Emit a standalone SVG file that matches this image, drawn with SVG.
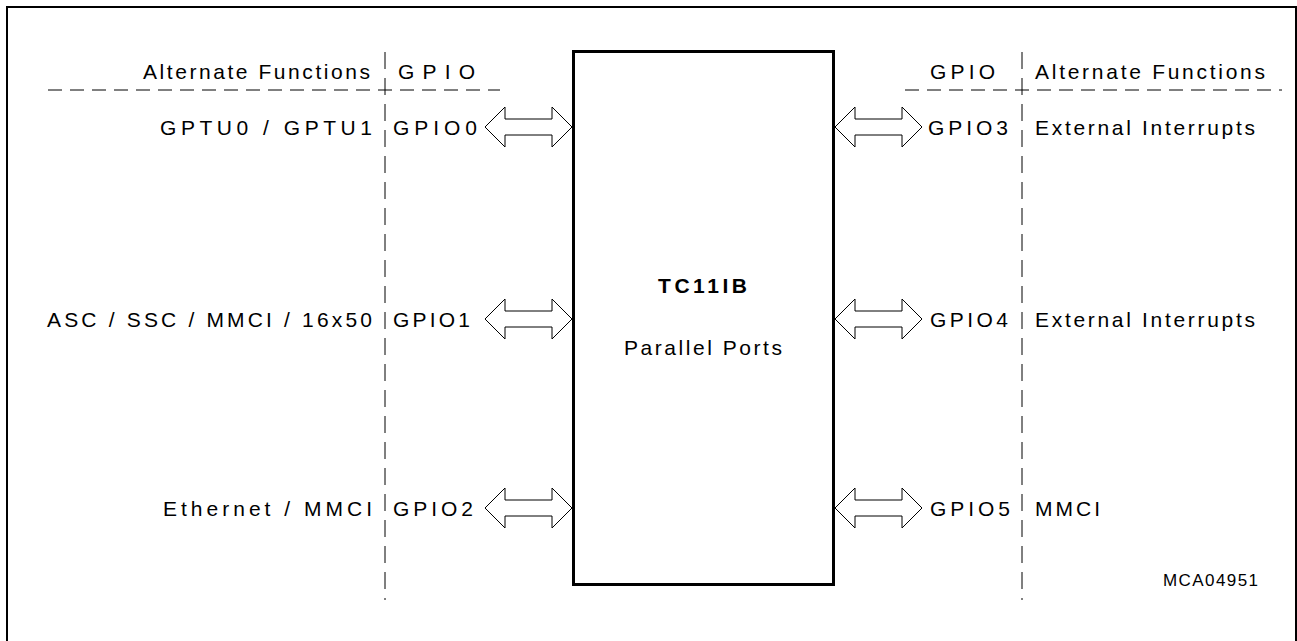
<svg xmlns="http://www.w3.org/2000/svg" width="1297" height="641" viewBox="0 0 1297 641">
<style>
text{font-family:"Liberation Sans",Arial,sans-serif;font-size:21px;fill:#000}
.b{font-weight:bold}
.dash{stroke:#000;stroke-width:1;fill:none}
.arr{fill:#fff;stroke:#000;stroke-width:1;stroke-linejoin:miter}
</style>
<rect x="0" y="0" width="1297" height="641" fill="#fff"/>
<rect x="7" y="7" width="1289" height="650" fill="none" stroke="#000" stroke-width="2"/>
<g id="guides">
<line class="dash" x1="385" y1="52" x2="385" y2="600" stroke-dasharray="17 9"/>
<line class="dash" x1="1022" y1="52" x2="1022" y2="600" stroke-dasharray="17 9"/>
<line class="dash" x1="48" y1="90" x2="500" y2="90" stroke-dasharray="14 8"/>
<line class="dash" x1="905" y1="90" x2="1282" y2="90" stroke-dasharray="14 8"/>
</g>
<g id="headers">
<text x="143" y="79" textLength="227" lengthAdjust="spacing">Alternate Functions</text>
<text x="398" y="79" textLength="77" lengthAdjust="spacing">GPIO</text>
<text x="930" y="79" textLength="65" lengthAdjust="spacing">GPIO</text>
<text x="1035" y="79" textLength="230" lengthAdjust="spacing">Alternate Functions</text>
</g>
<g id="tc11ib">
<rect x="573.5" y="51.5" width="260" height="533" fill="#fff" stroke="#000" stroke-width="3"/>
<text class="b" x="658" y="293" textLength="89" lengthAdjust="spacing">TC11IB</text>
<text x="624" y="355" textLength="158" lengthAdjust="spacing">Parallel Ports</text>
</g>
<g id="gpio0">
<text x="160" y="135" textLength="212" lengthAdjust="spacing">GPTU0 / GPTU1</text>
<text x="393" y="135" textLength="84" lengthAdjust="spacing">GPIO0</text>
</g>
<g id="gpio1">
<text x="47" y="327" textLength="325" lengthAdjust="spacing">ASC / SSC / MMCI / 16x50</text>
<text x="393" y="327" textLength="77" lengthAdjust="spacing">GPIO1</text>
</g>
<g id="gpio2">
<text x="163" y="516" textLength="209" lengthAdjust="spacing">Ethernet / MMCI</text>
<text x="393" y="516" textLength="80" lengthAdjust="spacing">GPIO2</text>
</g>
<g id="gpio3">
<text x="928" y="135" textLength="80" lengthAdjust="spacing">GPIO3</text>
<text x="1035" y="135" textLength="220" lengthAdjust="spacing">External Interrupts</text>
</g>
<g id="gpio4">
<text x="930" y="327" textLength="78" lengthAdjust="spacing">GPIO4</text>
<text x="1035" y="327" textLength="220" lengthAdjust="spacing">External Interrupts</text>
</g>
<g id="gpio5">
<text x="930" y="516" textLength="80" lengthAdjust="spacing">GPIO5</text>
<text x="1035" y="516" textLength="65" lengthAdjust="spacing">MMCI</text>
</g>
<text x="1163" y="586" style="font-size:17px" textLength="95" lengthAdjust="spacing">MCA04951</text>
<g id="connectors">
<polygon class="arr" points="485,127 505,107 505,119 552,119 552,107 572,127 552,147 552,135 505,135 505,147"/>
<polygon class="arr" points="485,319 505,299 505,311 552,311 552,299 572,319 552,339 552,327 505,327 505,339"/>
<polygon class="arr" points="485,508 505,488 505,500 552,500 552,488 572,508 552,528 552,516 505,516 505,528"/>
<polygon class="arr" points="835,127 855,107 855,119 902,119 902,107 922,127 902,147 902,135 855,135 855,147"/>
<polygon class="arr" points="835,319 855,299 855,311 902,311 902,299 922,319 902,339 902,327 855,327 855,339"/>
<polygon class="arr" points="835,508 855,488 855,500 902,500 902,488 922,508 902,528 902,516 855,516 855,528"/>
</g>
</svg>
